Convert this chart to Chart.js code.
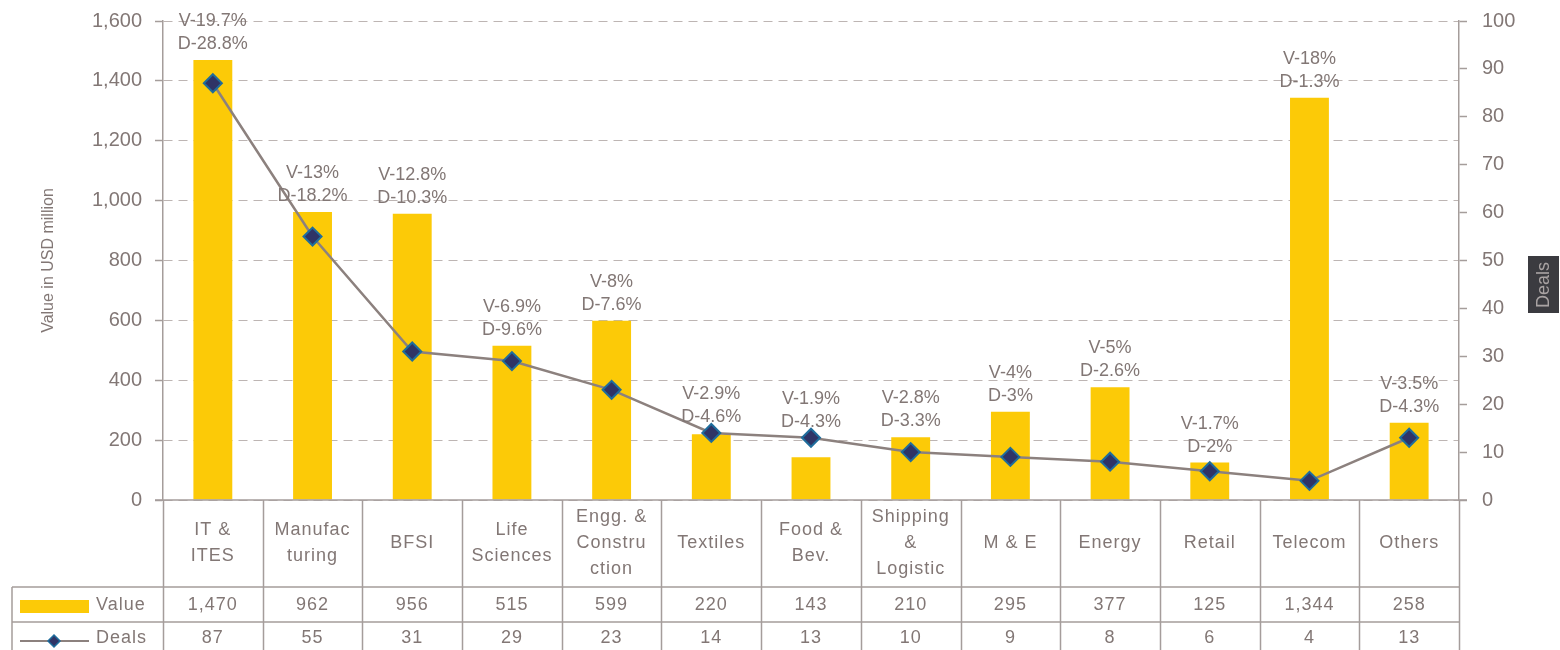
<!DOCTYPE html>
<html><head><meta charset="utf-8">
<script src="https://cdn.jsdelivr.net/npm/chart.js@4.4.1/dist/chart.umd.min.js"></script>
<style>html,body{margin:0;padding:0;background:#fff}#wrap{width:1560px;height:650px;position:relative}</style>
</head><body><div id="wrap"><canvas id="c" width="1560" height="650"></canvas></div>
<script>
const categories = [["IT &","ITES"],["Manufac","turing"],["BFSI"],["Life","Sciences"],["Engg. &","Constru","ction"],["Textiles"],["Food &","Bev."],["Shipping","&","Logistic"],["M & E"],["Energy"],["Retail"],["Telecom"],["Others"]];
const values = [1470,962,956,515,599,220,143,210,295,377,125,1344,258];
const deals = [87,55,31,29,23,14,13,10,9,8,6,4,13];
const valueShare = ["V-19.7%","V-13%","V-12.8%","V-6.9%","V-8%","V-2.9%","V-1.9%","V-2.8%","V-4%","V-5%","V-1.7%","V-18%","V-3.5%"];
const dealShare = ["D-28.8%","D-18.2%","D-10.3%","D-9.6%","D-7.6%","D-4.6%","D-4.3%","D-3.3%","D-3%","D-2.6%","D-2%","D-1.3%","D-4.3%"];
const seriesNames = ["Value","Deals"];
const leftAxisTitle = "Value in USD million";
const rightAxisTitle = "Deals";

const FONT = "'Liberation Sans', Arial, sans-serif";
const TXT = '#827775';
const LINE = '#a59d9b';
const BAR = '#FCCA07';
const SER = '#8c817e';
const MK = '#2f3466';
const MKB = '#1f6d9c';

const overlay = {
  id: 'overlay',
  afterDatasetsDraw(chart) {
    const ctx = chart.ctx;
    const bars = chart.getDatasetMeta(0).data;
    const pts = chart.getDatasetMeta(1).data;
    ctx.save();
    ctx.fillStyle = TXT;
    ctx.font = '18px ' + FONT;
    ctx.textAlign = 'center';
    ctx.textBaseline = 'middle';
    for (let i = 0; i < bars.length; i++) {
      const top = Math.min(bars[i].y, pts[i].y);
      ctx.fillText(valueShare[i], bars[i].x, top - 39);
      ctx.fillText(dealShare[i], bars[i].x, top - 16);
    }
    ctx.restore();
  },
  afterDraw(chart) {
    const ctx = chart.ctx;
    const xs = chart.scales.x;
    const ca = chart.chartArea;
    const bottom = ca.bottom;
    const half = (xs.getPixelForValue(1) - xs.getPixelForValue(0)) / 2;
    const r1 = 587, r2 = 622, r3 = 650, tl = 12;
    ctx.save();
    ctx.strokeStyle = LINE;
    ctx.lineWidth = 1.5;
    ctx.beginPath(); ctx.moveTo(ca.left - 8, bottom); ctx.lineTo(ca.right + 8, bottom); ctx.stroke();
    ctx.beginPath();
    for (let i = 0; i <= categories.length; i++) {
      const x = Math.round(xs.getPixelForValue(0) - half + i * 2 * half) + 0.5;
      ctx.moveTo(x, bottom); ctx.lineTo(x, r3);
    }
    ctx.moveTo(tl, r1); ctx.lineTo(tl, r3);
    ctx.moveTo(tl, r1); ctx.lineTo(ca.right, r1);
    ctx.moveTo(tl, r2); ctx.lineTo(ca.right, r2);
    ctx.stroke();
    ctx.fillStyle = TXT;
    ctx.textAlign = 'center';
    ctx.textBaseline = 'middle';
    ctx.font = '18px ' + FONT;
    if ('letterSpacing' in ctx) ctx.letterSpacing = '1px';
    const lh = 26;
    const hc = (bottom + r1) / 2;
    categories.forEach((lines, i) => {
      const x = xs.getPixelForValue(i);
      const y0 = hc - (lines.length - 1) * lh / 2;
      lines.forEach((t, k) => ctx.fillText(t, x, y0 + k * lh));
      ctx.fillText(values[i].toLocaleString('en-US'), x, (r1 + r2) / 2 + 1);
      ctx.fillText(String(deals[i]), x, (r2 + r3) / 2 + 2);
    });
    ctx.textAlign = 'left';
    ctx.fillText(seriesNames[0], 96, (r1 + r2) / 2 + 1);
    ctx.fillText(seriesNames[1], 96, (r2 + r3) / 2 + 2);
    ctx.fillStyle = BAR;
    ctx.fillRect(20, 600, 69, 13);
    ctx.strokeStyle = SER; ctx.lineWidth = 2;
    ctx.beginPath(); ctx.moveTo(20, 641); ctx.lineTo(89, 641); ctx.stroke();
    ctx.fillStyle = MK; ctx.strokeStyle = MKB; ctx.lineWidth = 1.5;
    ctx.beginPath(); ctx.moveTo(54, 635); ctx.lineTo(60, 641); ctx.lineTo(54, 647); ctx.lineTo(48, 641); ctx.closePath(); ctx.fill(); ctx.stroke();
    ctx.fillStyle = '#3b3b40';
    ctx.fillRect(1528, 256, 31, 57);
    ctx.translate(1544, 285);
    ctx.rotate(-Math.PI / 2);
    if ('letterSpacing' in ctx) ctx.letterSpacing = '0px';
    ctx.fillStyle = '#a9a3a3';
    ctx.font = '18px ' + FONT;
    ctx.textAlign = 'center';
    ctx.fillText(rightAxisTitle, 0, 0);
    ctx.restore();
  }
};

new Chart(document.getElementById('c'), {
  data: {
    labels: categories.map(c => c.join(' ')),
    datasets: [
      { type: 'bar', label: seriesNames[0], data: values, backgroundColor: BAR, yAxisID: 'y', order: 1,
        categoryPercentage: 1, barPercentage: 0.39 },
      { type: 'line', label: seriesNames[1], data: deals, yAxisID: 'y1', order: 0,
        borderColor: SER, borderWidth: 2.5, pointStyle: 'rectRot', pointRadius: 9,
        pointBackgroundColor: MK, pointBorderColor: MKB, pointBorderWidth: 2, tension: 0 }
    ]
  },
  options: {
    responsive: false,
    animation: false,
    layout: { padding: { top: 21, bottom: 150, left: 0, right: 0 } },
    plugins: { legend: { display: false }, tooltip: { enabled: false } },
    scales: {
      x: { display: false, offset: true },
      y: {
        position: 'left', min: 0, max: 1600,
        ticks: { stepSize: 200, color: TXT, font: { family: FONT, size: 20, lineHeight: 0.5 }, padding: 13,
          callback: v => v.toLocaleString('en-US') },
        grid: { color: '#bdb5b3', lineWidth: 1, tickLength: 8, tickColor: LINE, tickWidth: 1.5 },
        border: { display: true, color: LINE, width: 1.5, dash: [9, 6] },
        title: { display: true, text: leftAxisTitle, color: TXT, font: { family: FONT, size: 16 }, padding: { top: 39, bottom: 0 } },
        afterFit(s) { s.width = 163; }
      },
      y1: {
        position: 'right', min: 0, max: 100,
        ticks: { stepSize: 10, color: TXT, font: { family: FONT, size: 20, lineHeight: 0.5 }, padding: 15 },
        grid: { drawOnChartArea: false, tickLength: 8, tickColor: LINE, tickWidth: 1.5 },
        border: { display: true, color: LINE, width: 1.5 },
        afterFit(s) { s.width = 101; }
      }
    }
  },
  plugins: [overlay]
});
</script>
</body></html>
